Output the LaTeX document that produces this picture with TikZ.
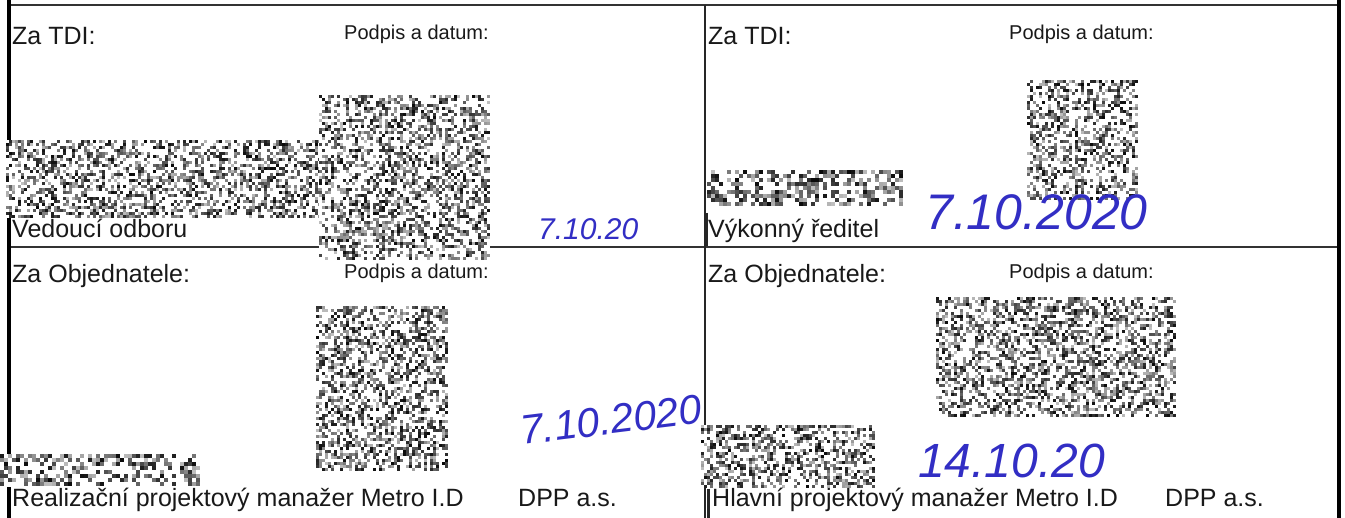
\documentclass[tikz,border=0pt]{standalone}
\usepackage{fontspec}
\setmainfont{Liberation Sans}
\definecolor{ink}{RGB}{50,46,196}
\tikzset{
	rule/.style={line width=2.5pt, black!80},
	frame/.style={line width=4pt, black},
	formtext/.style={anchor=base west, inner sep=0pt, text=black!90, font=\fontsize{25}{29}\selectfont},
	podpis/.style={anchor=base west, inner sep=0pt, text=black!90, font=\fontsize{20}{24}\selectfont},
	hand/.style={anchor=base west, inner sep=0pt, text=ink},
}
\newcommand{\redact}[5]{%
	\fill[white] (#1,#2) rectangle (#3,#4);
	\pgfmathtruncatemacro{\nx}{(#3-#1)/#5-1}
	\pgfmathtruncatemacro{\ny}{(#4-#2)/#5-1}
	\foreach \i in {0,...,\nx} {
		\foreach \j in {0,...,\ny} {
			\pgfmathsetmacro{\rv}{rnd}
			\ifdim\rv pt<0.48pt
				\pgfmathtruncatemacro{\rshade}{25+72*rnd}
				\fill[black!\rshade] ({#1+\i*#5},{#2+\j*#5}) rectangle ++(#5,#5);
			\fi
		}
	}
}
\begin{document}
\begin{tikzpicture}[x=1pt,y=-1pt]
	\useasboundingbox (0,0) rectangle (1345,518);
	\fill[white] (0,0) rectangle (1345,518);
	\draw[rule] (7,5) -- (1339,5);
	\draw[rule] (7,247) -- (1339,247);
	\draw[frame] (9,0) -- (9,518);
	\draw[frame] (1339,0) -- (1339,518);
	\draw[line width=2pt, black!85] (705,5) -- (705,518);
	\draw[line width=3.5pt, black!85] (706,213) -- (706,246);
	\draw[line width=3pt, black!85] (708,489) -- (708,518);
	\pgfmathsetseed{4711}
	\redact{6}{140}{330}{218}{3}
	\redact{319}{95}{490}{262}{3}
	\redact{1027}{80}{1140}{202}{3}
	\redact{707}{170}{905}{209}{4}
	\redact{316}{306}{449}{472}{3}
	\redact{0}{454}{202}{487}{4}
	\redact{936}{297}{1178}{417}{3}
	\redact{701}{425}{876}{488}{3}
	\node[formtext] (tdiL) at (12,45) {Za TDI:};
	\node[podpis] (podpisTL) at (344,40) {Podpis a datum:};
	\node[formtext] (roleTL) at (12,238) {Vedoucí odboru};
	\node[formtext] (tdiR) at (708,45) {Za TDI:};
	\node[podpis] (podpisTR) at (1009,40) {Podpis a datum:};
	\node[formtext] (roleTR) at (708,238) {Výkonný ředitel};
	\node[formtext] (objL) at (12,283) {Za Objednatele:};
	\node[podpis] (podpisBL) at (344,279) {Podpis a datum:};
	\node[formtext] (roleBL) at (12,507) {Realizační projektový manažer Metro I.D};
	\node[formtext] (dppL) at (518,507) {DPP a.s.};
	\node[formtext] (objR) at (708,283) {Za Objednatele:};
	\node[podpis] (podpisBR) at (1009,279) {Podpis a datum:};
	\node[formtext] (roleBR) at (712,507) {Hlavní projektový manažer Metro I.D};
	\node[formtext] (dppR) at (1165,507) {DPP a.s.};
	\node[hand, font=\itshape\fontsize{30}{30}\selectfont] (dateTL) at (538,240) {7.10.20};
	\node[hand, font=\itshape\fontsize{50}{50}\selectfont] (dateTR) at (925,230) {7.10.2020};
	\node[hand, font=\itshape\fontsize{41}{41}\selectfont, rotate=7] (dateBL) at (522,445) {7.10.2020};
	\node[hand, font=\itshape\fontsize{48}{48}\selectfont] (dateBR) at (918,478) {14.10.20};
\end{tikzpicture}
\end{document}
